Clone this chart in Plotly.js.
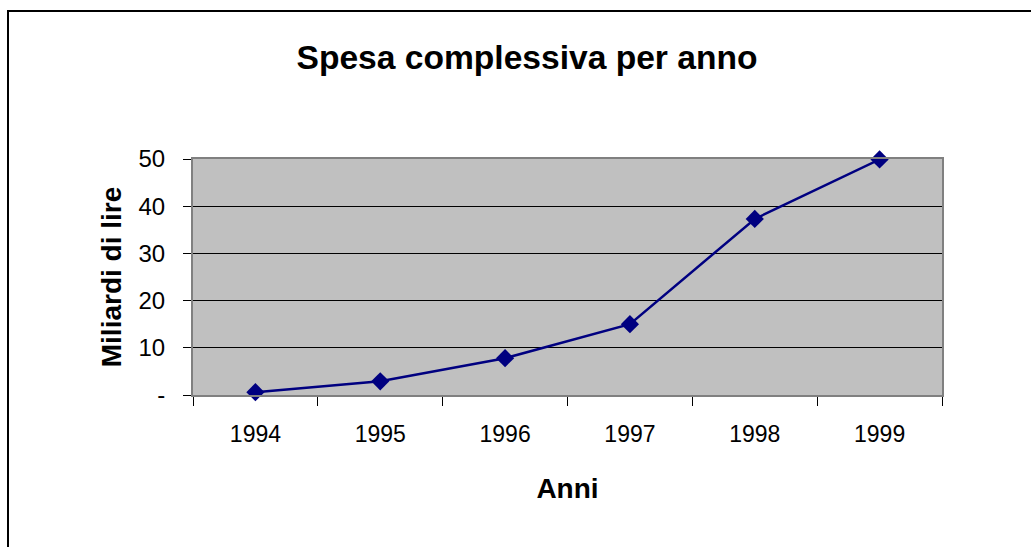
<!DOCTYPE html>
<html>
<head>
<meta charset="utf-8">
<script src="https://cdn.plot.ly/plotly-3.0.1.min.js"></script>
<style>
html,body{margin:0;padding:0;background:#fff;}
#chart{width:1031px;height:547px;}
</style>
</head>
<body>
<div id="chart"></div>
<script>
const anni = ['1994', '1995', '1996', '1997', '1998', '1999'];
const spesa = [0.6, 2.9, 7.8, 15.0, 37.3, 49.9];
const yTickVals = [0, 10, 20, 30, 40, 50];
const yTickText = ['-', '10', '20', '30', '40', '50'];

const W = 1031, H = 547;
const m = {l: 193, r: 89, t: 159, b: 152};
const pw = W - m.l - m.r, ph = H - m.t - m.b;
function px(x) { return (x - m.l) / pw; }
function py(y) { return (H - m.b - y) / ph; }

const font = 'Liberation Sans, Arial, sans-serif';

const trace = {
  x: anni,
  y: spesa,
  type: 'scatter',
  mode: 'lines+markers',
  line: {color: '#000080', width: 2.5},
  marker: {symbol: 'diamond', size: 14, color: '#000080'},
  cliponaxis: false,
  hoverinfo: 'x+y'
};

const layout = {
  width: W, height: H,
  margin: m,
  paper_bgcolor: '#ffffff',
  plot_bgcolor: '#c0c0c0',
  showlegend: false,
  font: {family: font, color: '#000'},
  title: {
    text: '<b>Spesa complessiva per anno</b>',
    font: {family: font, size: 33.6, color: '#000'},
    x: 527 / W, xref: 'container', xanchor: 'center',
    y: 1 - 57 / H, yref: 'container', yanchor: 'middle'
  },
  xaxis: {
    type: 'category',
    range: [-0.5, 5.5],
    tickson: 'boundaries',
    ticks: 'outside', ticklen: 9, tickwidth: 1, tickcolor: '#000',
    showline: true, linecolor: '#808080', linewidth: 2, mirror: true,
    showgrid: false, zeroline: false,
    tickfont: {family: font, size: 23, color: '#000'},
    ticklabelstandoff: 17,
    title: {text: '<b>Anni</b>', font: {family: font, size: 28, color: '#000'}, standoff: 33}
  },
  yaxis: {
    range: [0, 50],
    tickvals: yTickVals,
    ticktext: yTickText,
    ticks: 'outside', ticklen: 8, tickwidth: 1, tickcolor: '#000',
    showline: true, linecolor: '#808080', linewidth: 2, mirror: true,
    showgrid: true, gridcolor: '#000000', gridwidth: 1,
    zeroline: false,
    tickfont: {family: font, size: 24, color: '#000'},
    ticklabelstandoff: 13,
    title: {text: '<b>Miliardi di lire</b>', font: {family: font, size: 28, color: '#000'}, standoff: 9}
  },
  shapes: [{
    type: 'rect', xref: 'paper', yref: 'paper',
    x0: px(8), x1: px(1040), y0: py(560), y1: py(11),
    line: {color: '#000', width: 2}, fillcolor: 'rgba(0,0,0,0)', layer: 'below'
  }]
};

Plotly.newPlot('chart', [trace], layout, {displayModeBar: false, staticPlot: true});
</script>
</body>
</html>
